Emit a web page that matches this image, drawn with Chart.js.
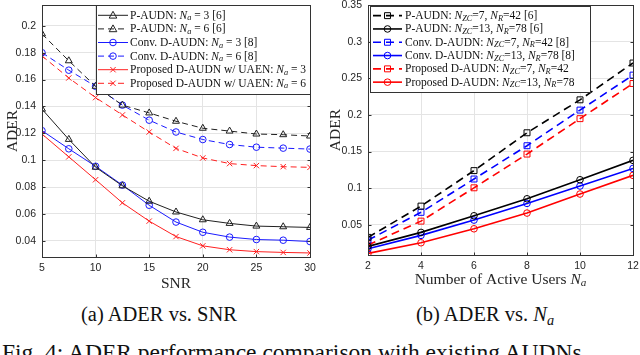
<!DOCTYPE html>
<html lang="en">
<head>
  <meta charset="UTF-8">
  <title>ADER performance comparison</title>
  <script src="https://cdn.jsdelivr.net/npm/chart.js"></script>
  <style>
    body {
      margin: 0;
      width: 640px;
      height: 355px;
      overflow: hidden;
      background: #fff;
      position: relative;
      font-family: "Liberation Serif", "Times New Roman", serif;
      color: #111;
    }
    .panel {
      position: absolute;
      top: 0;
      width: 320px;
      height: 292px;
    }
    #panelA { left: 0; }
    #panelB { left: 320px; }
    .cap {
      position: absolute;
      top: 304px;
      width: 320px;
      text-align: center;
      font-size: 20.5px;
      line-height: 20.5px;
      white-space: nowrap;
    }
    #capA { left: -1px; }
    #capB { left: 325px; }
    #figcap {
      position: absolute;
      left: 2px;
      top: 341px;
      font-size: 23.5px;
      line-height: 23.5px;
      white-space: nowrap;
    }
    i sub { font-size: 70%; vertical-align: -0.25em; line-height: 0; }
  </style>
</head>
<body>
  <div class="panel" id="panelA"><canvas id="chartA" width="320" height="292"></canvas></div>
  <div class="panel" id="panelB"><canvas id="chartB" width="320" height="292"></canvas></div>
  <div class="cap" id="capA">(a) ADER vs. SNR</div>
  <div class="cap" id="capB">(b) ADER vs. <i>N<sub>a</sub></i></div>
  <div id="figcap">Fig. 4: ADER performance comparison with existing AUDNs.</div>

  <script>
    // ---- (a) ADER vs SNR ----
    const snr = [5, 7.5, 10, 12.5, 15, 17.5, 20, 22.5, 25, 27.5, 30];
    const pAudn3 = [0.138, 0.1155, 0.0948, 0.081, 0.0695, 0.0615, 0.0557, 0.053, 0.051, 0.0505, 0.050];
    const pAudn6 = [0.194, 0.174, 0.155, 0.141, 0.1352, 0.129, 0.1238, 0.1217, 0.1195, 0.119, 0.118];
    const conv3 = [0.122, 0.1085, 0.0955, 0.0815, 0.0665, 0.054, 0.0464, 0.0428, 0.041, 0.0405, 0.0395];
    const conv6 = [0.180, 0.167, 0.155, 0.141, 0.1298, 0.121, 0.1154, 0.1117, 0.1097, 0.109, 0.1083];
    const prop3 = [0.1195, 0.1025, 0.0855, 0.0683, 0.0547, 0.0432, 0.0363, 0.0334, 0.032, 0.0314, 0.031];
    const prop6 = [0.1776, 0.1612, 0.1466, 0.1337, 0.121, 0.1088, 0.1017, 0.0975, 0.096, 0.0952, 0.0947];
    const ticksA_x = [5, 10, 15, 20, 25, 30];
    const ticksA_y = [0.04, 0.06, 0.08, 0.1, 0.12, 0.14, 0.16, 0.18, 0.2];

    // ---- (b) ADER vs number of active users ----
    const users = [2, 4, 6, 8, 10, 12];
    const pAudnZc7 = [0.0328, 0.0755, 0.124, 0.1757, 0.2207, 0.271];
    const pAudnZc13 = [0.0205, 0.0396, 0.0623, 0.0855, 0.1115, 0.138];
    const convZc7 = [0.029, 0.067, 0.1125, 0.158, 0.2067, 0.2545];
    const convZc13 = [0.0172, 0.0355, 0.0564, 0.0792, 0.1029, 0.127];
    const propZc7 = [0.0223, 0.055, 0.1005, 0.1466, 0.195, 0.243];
    const propZc13 = [0.0109, 0.0254, 0.0445, 0.066, 0.092, 0.1175];
    const ticksB_x = [2, 4, 6, 8, 10, 12];
    const ticksB_y = [0.05, 0.1, 0.15, 0.2, 0.25, 0.3, 0.35];

    // rich text: [text, style]  ('' normal, 'i' italic, 's' italic subscript)
    const legendA = [
      [["P-AUDN: ", ""], ["N", "i"], ["a", "s"], [" = 3 [6]", ""]],
      [["P-AUDN: ", ""], ["N", "i"], ["a", "s"], [" = 6 [6]", ""]],
      [["Conv. D-AUDN: ", ""], ["N", "i"], ["a", "s"], [" = 3 [8]", ""]],
      [["Conv. D-AUDN: ", ""], ["N", "i"], ["a", "s"], [" = 6 [8]", ""]],
      [["Proposed D-AUDN w/ UAEN: ", ""], ["N", "i"], ["a", "s"], [" = 3", ""]],
      [["Proposed D-AUDN w/ UAEN: ", ""], ["N", "i"], ["a", "s"], [" = 6", ""]]
    ];
    const legendB = [
      [["P-AUDN: ", ""], ["N", "i"], ["ZC", "s"], ["=7, ", ""], ["N", "i"], ["R", "s"], ["=42 [6]", ""]],
      [["P-AUDN: ", ""], ["N", "i"], ["ZC", "s"], ["=13, ", ""], ["N", "i"], ["R", "s"], ["=78 [6]", ""]],
      [["Conv. D-AUDN: ", ""], ["N", "i"], ["ZC", "s"], ["=7, ", ""], ["N", "i"], ["R", "s"], ["=42 [8]", ""]],
      [["Conv. D-AUDN: ", ""], ["N", "i"], ["ZC", "s"], ["=13, ", ""], ["N", "i"], ["R", "s"], ["=78 [8]", ""]],
      [["Proposed D-AUDN: ", ""], ["N", "i"], ["ZC", "s"], ["=7, ", ""], ["N", "i"], ["R", "s"], ["=42", ""]],
      [["Proposed D-AUDN: ", ""], ["N", "i"], ["ZC", "s"], ["=13, ", ""], ["N", "i"], ["R", "s"], ["=78", ""]]
    ];
    const xTitleA = [["SNR", ""]];
    const xTitleB = [["Number of Active Users ", ""], ["N", "i"], ["a", "s"]];
    const yTitle = [["ADER", ""]];

    const SERIF = '"Liberation Serif", "Times New Roman", serif';
    const SANS = '"Liberation Sans", Arial, sans-serif';
    const AXIS = "#333";
    const GRID = "#e4e4e4";

    function segFont(style, size) {
      if (style === "i") return "italic " + size + "px " + SERIF;
      if (style === "s") return "italic " + (size * 0.72).toFixed(1) + "px " + SERIF;
      return size + "px " + SERIF;
    }

    function measureSegs(ctx, segs, size) {
      let w = 0;
      segs.forEach(s => { ctx.font = segFont(s[1], size); w += ctx.measureText(s[0]).width; });
      return w;
    }

    function drawSegs(ctx, segs, size, x, y, color) {
      ctx.fillStyle = color;
      ctx.textBaseline = "middle";
      ctx.textAlign = "left";
      segs.forEach(s => {
        ctx.font = segFont(s[1], size);
        ctx.fillText(s[0], x, s[1] === "s" ? y + size * 0.25 : y + 0.5);
        x += ctx.measureText(s[0]).width;
      });
    }

    function drawMarker(ctx, style, x, y, r) {
      ctx.beginPath();
      if (style === "circle") {
        ctx.arc(x, y, r, 0, Math.PI * 2);
      } else if (style === "triangle") {
        ctx.moveTo(x, y - r);
        ctx.lineTo(x + r * 0.95, y + r * 0.7);
        ctx.lineTo(x - r * 0.95, y + r * 0.7);
        ctx.closePath();
      } else if (style === "rect") {
        const s = r * Math.SQRT1_2;
        ctx.rect(x - s, y - s, 2 * s, 2 * s);
      } else if (style === "crossRot") {
        const s = r * Math.SQRT1_2;
        ctx.moveTo(x - s, y - s); ctx.lineTo(x + s, y + s);
        ctx.moveTo(x + s, y - s); ctx.lineTo(x - s, y + s);
      }
      ctx.stroke();
    }

    // frame around plot area with inward ticks (MATLAB "box on"), plus axis titles
    const boxPlugin = {
      id: "boxFrame",
      afterDatasetsDraw(chart, args, o) {
        const a = chart.chartArea, ctx = chart.ctx;
        const L = Math.round(a.left) + 0.5, T = Math.round(a.top) + 0.5;
        const R = Math.round(a.right) + 0.5, B = Math.round(a.bottom) + 0.5;
        ctx.save();
        ctx.strokeStyle = AXIS;
        ctx.lineWidth = 1;
        ctx.strokeRect(L, T, R - L, B - T);
        ctx.beginPath();
        chart.scales.x.ticks.forEach(t => {
          const px = Math.round(chart.scales.x.getPixelForValue(t.value)) + 0.5;
          ctx.moveTo(px, B); ctx.lineTo(px, B - 3);
          ctx.moveTo(px, T); ctx.lineTo(px, T + 3);
        });
        chart.scales.y.ticks.forEach(t => {
          const py = Math.round(chart.scales.y.getPixelForValue(t.value)) + 0.5;
          ctx.moveTo(L, py); ctx.lineTo(L + 3, py);
          ctx.moveTo(R, py); ctx.lineTo(R - 3, py);
        });
        ctx.stroke();
        // axis titles
        const xs = o.titleSize;
        const xw = measureSegs(ctx, o.xTitle, xs);
        drawSegs(ctx, o.xTitle, xs, (a.left + a.right) / 2 - xw / 2, a.bottom + o.xTitleDy, "#262626");
        ctx.translate(o.yTitleX, (a.top + a.bottom) / 2);
        ctx.rotate(-Math.PI / 2);
        const yw = measureSegs(ctx, o.yTitle, xs);
        drawSegs(ctx, o.yTitle, xs, -yw / 2, 0, "#262626");
        ctx.restore();
      }
    };

    // legend with italic symbols and subscripts
    const richLegend = {
      id: "richLegend",
      afterDraw(chart, args, o) {
        const ctx = chart.ctx, a = chart.chartArea;
        const items = o.items;
        ctx.save();
        const tw = Math.max(...items.map(s => measureSegs(ctx, s, o.size)));
        const w = Math.round(o.lineStart + o.sample + o.gap + tw + o.padR);
        const h = Math.round(o.rowH * items.length + o.padV * 2);
        const x0 = Math.round(o.align === "right" ? a.right - w : a.left + o.dx);
        const y0 = Math.round(a.top + o.dy);
        ctx.fillStyle = "#fff";
        ctx.fillRect(x0, y0, w, h);
        ctx.strokeStyle = AXIS;
        ctx.lineWidth = 1;
        ctx.strokeRect(x0 + 0.5, y0 + 0.5, w, h);
        items.forEach((segs, i) => {
          const ds = chart.data.datasets[i];
          const yy = y0 + o.padV + o.rowH * (i + 0.5);
          const lx = x0 + o.lineStart;
          ctx.strokeStyle = ds.borderColor;
          ctx.lineWidth = ds.borderWidth;
          ctx.setLineDash(ds.borderDash || []);
          ctx.beginPath();
          ctx.moveTo(lx, yy);
          ctx.lineTo(lx + o.sample, yy);
          ctx.stroke();
          ctx.setLineDash([]);
          ctx.lineWidth = 1;
          drawMarker(ctx, ds.pointStyle, lx + o.sample / 2, yy, ds.pointRadius);
          drawSegs(ctx, segs, o.size, lx + o.sample + o.gap, yy, "#111");
        });
        ctx.restore();
      }
    };

    function series(label, xs, ys, color, dash, style, radius, width) {
      return {
        label: label,
        data: xs.map((x, i) => ({ x: x, y: ys[i] })),
        borderColor: color,
        borderWidth: width,
        borderDash: dash,
        pointStyle: style,
        pointRadius: radius,
        pointBorderColor: color,
        pointBackgroundColor: "rgba(0,0,0,0)",
        pointBorderWidth: 1,
        fill: false,
        tension: 0
      };
    }

    function noPad(s) {
      s.paddingTop = 0; s.paddingBottom = 0; s.paddingLeft = 0; s.paddingRight = 0;
    }

    function axes(xTicks, yTicks, xMin, xMax, yMin, yMax, yWidth, xHeight) {
      return {
        x: {
          type: "linear",
          min: xMin,
          max: xMax,
          afterBuildTicks: s => { s.ticks = xTicks.map(v => ({ value: v })); },
          afterFit: s => { s.height = xHeight; noPad(s); },
          grid: { color: GRID, drawTicks: false },
          border: { color: AXIS },
          ticks: { color: "#262626", font: { family: SANS, size: 10.5 }, padding: 5, maxRotation: 0,
            callback: v => String(v) },
          title: { display: false }
        },
        y: {
          min: yMin,
          max: yMax,
          afterBuildTicks: s => { s.ticks = yTicks.map(v => ({ value: v })); },
          afterFit: s => { s.width = yWidth; noPad(s); },
          grid: { color: GRID, drawTicks: false },
          border: { color: AXIS },
          ticks: { color: "#262626", font: { family: SANS, size: 10.5 }, padding: 6,
            callback: v => String(Number(v.toFixed(2))) },
          title: { display: false }
        }
      };
    }

    new Chart(document.getElementById("chartA"), {
      type: "line",
      data: {
        datasets: [
          series("P-AUDN: Na = 3 [6]", snr, pAudn3, "#202020", [], "triangle", 4, 1),
          series("P-AUDN: Na = 6 [6]", snr, pAudn6, "#202020", [6, 4], "triangle", 4, 1),
          series("Conv. D-AUDN: Na = 3 [8]", snr, conv3, "#1a1aff", [], "circle", 3.3, 1),
          series("Conv. D-AUDN: Na = 6 [8]", snr, conv6, "#1a1aff", [6, 4], "circle", 3.3, 1),
          series("Proposed D-AUDN w/ UAEN: Na = 3", snr, prop3, "#ff2020", [], "crossRot", 3.8, 1),
          series("Proposed D-AUDN w/ UAEN: Na = 6", snr, prop6, "#ff2020", [6, 4], "crossRot", 3.8, 1)
        ]
      },
      options: {
        responsive: false,
        animation: false,
        layout: { padding: { top: 0, right: 10, bottom: 0, left: 2 } },
        scales: axes(ticksA_x, ticksA_y, 5, 30, 0.028, 0.2155, 40, 35),
        plugins: {
          legend: { display: false },
          tooltip: { enabled: false },
          boxFrame: { xTitle: xTitleA, yTitle: yTitle, titleSize: 15.5, xTitleDy: 26, yTitleX: 12.5 },
          richLegend: { items: legendA, size: 11.5, rowH: 13.6, padV: 3.5, lineStart: 2, sample: 30,
            gap: 2, padR: 4, align: "right", dx: 0, dy: 0 }
        }
      },
      plugins: [boxPlugin, richLegend]
    });

    new Chart(document.getElementById("chartB"), {
      type: "line",
      data: {
        datasets: [
          series("P-AUDN: NZC=7, NR=42 [6]", users, pAudnZc7, "#000", [8, 5], "rect", 4.2, 1.6),
          series("P-AUDN: NZC=13, NR=78 [6]", users, pAudnZc13, "#000", [], "circle", 3.3, 1.6),
          series("Conv. D-AUDN: NZC=7, NR=42 [8]", users, convZc7, "#0000ff", [8, 5], "rect", 4.2, 1.6),
          series("Conv. D-AUDN: NZC=13, NR=78 [8]", users, convZc13, "#0000ff", [], "circle", 3.3, 1.6),
          series("Proposed D-AUDN: NZC=7, NR=42", users, propZc7, "#ff0000", [8, 5], "rect", 4.2, 1.6),
          series("Proposed D-AUDN: NZC=13, NR=78", users, propZc13, "#ff0000", [], "circle", 3.3, 1.6)
        ]
      },
      options: {
        responsive: false,
        animation: false,
        layout: { padding: { top: 5, right: 7, bottom: 0, left: 0 } },
        scales: axes(ticksB_x, ticksB_y, 2, 12, 0.0087, 0.35, 48, 37),
        plugins: {
          legend: { display: false },
          tooltip: { enabled: false },
          boxFrame: { xTitle: xTitleB, yTitle: yTitle, titleSize: 15.5, xTitleDy: 24, yTitleX: 15 },
          richLegend: { items: legendB, size: 11.5, rowH: 13.3, padV: 3, lineStart: 3, sample: 29,
            gap: 3, padR: 15, align: "left", dx: 2, dy: 1 }
        }
      },
      plugins: [boxPlugin, richLegend]
    });
  </script>
</body>
</html>
